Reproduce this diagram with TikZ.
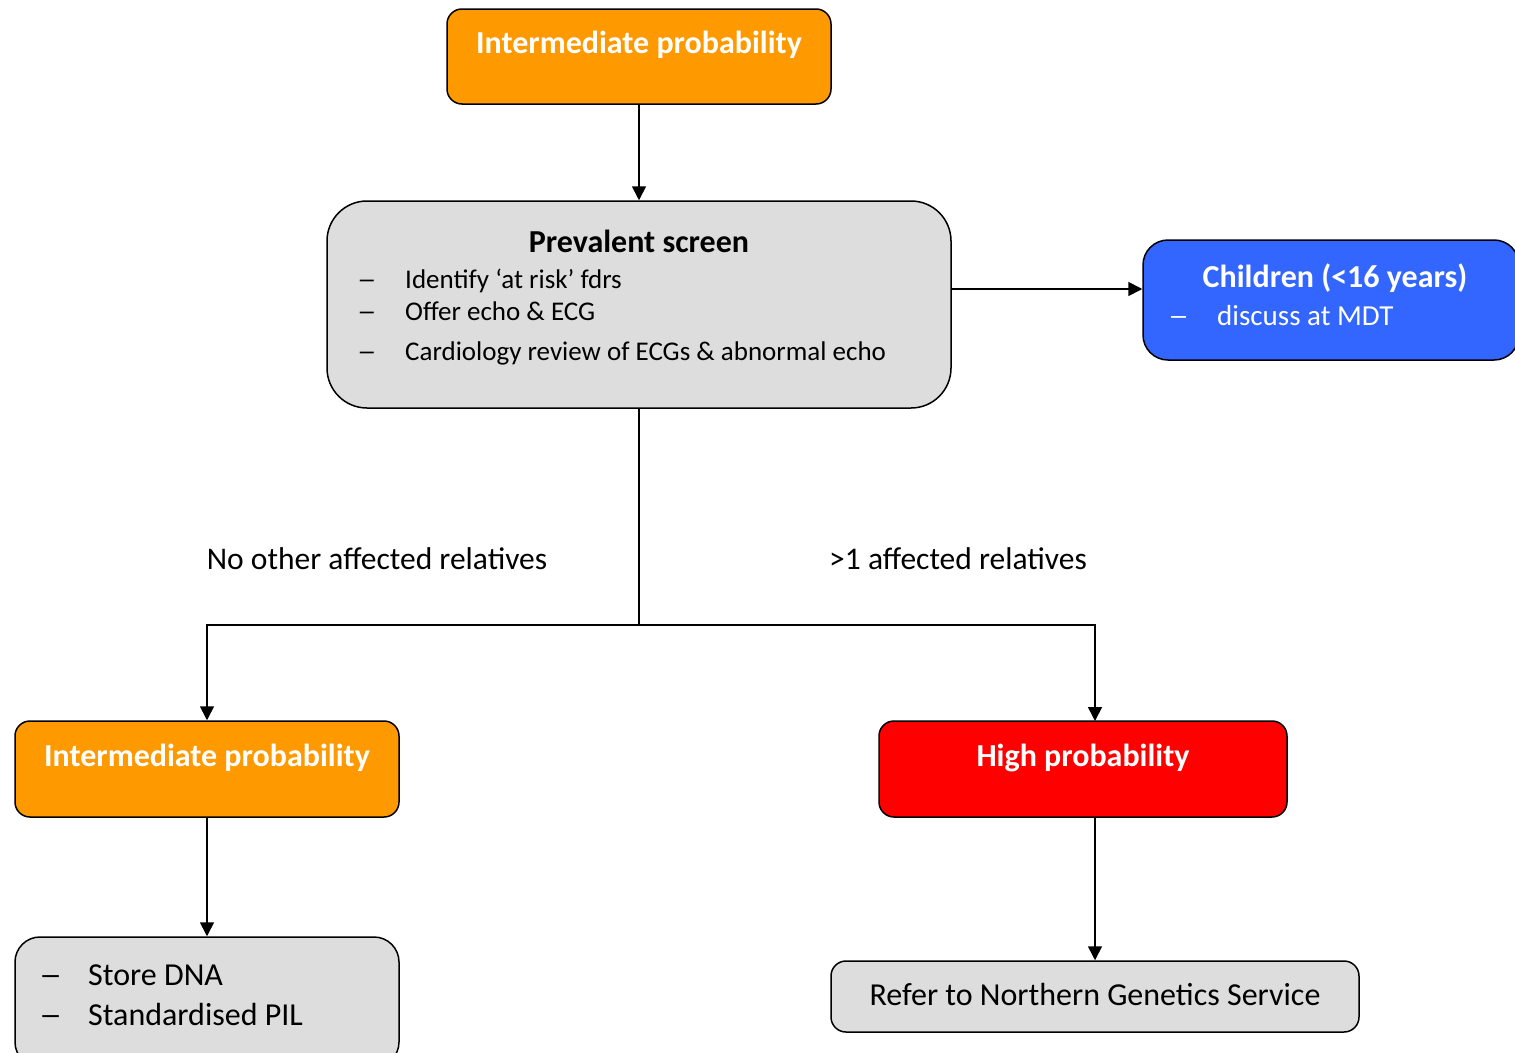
\documentclass[tikz,border=0pt]{standalone}
\usepackage{fontspec}
\setmainfont{Carlito}
\usetikzlibrary{arrows.meta}
\definecolor{orangebox}{HTML}{FF9900}
\definecolor{greybox}{HTML}{DDDDDD}
\definecolor{bluebox}{HTML}{3366FF}
\definecolor{redbox}{HTML}{FF0000}
\newcommand{\mydash}{\scalebox{1.45}[1]{–}}
\tikzset{
  box/.style={draw=black, line width=1.5pt, inner sep=0pt},
  conn/.style={line width=1.6pt, -{Triangle[length=14pt,width=14pt]}},
  plain/.style={line width=1.6pt},
  bt/.style={font=\fontsize{32}{38}\selectfont\bfseries, inner sep=0pt, anchor=base},
  lt/.style={font=\fontsize{27}{32}\selectfont, inner sep=0pt, anchor=base west},
  ct/.style={font=\fontsize{32}{38}\selectfont, inner sep=0pt, anchor=base},
}
\begin{document}
\begin{tikzpicture}[x=1pt,y=-1pt]
\useasboundingbox (0,0) rectangle (1515,1052);
\fill[white] (0,0) rectangle (1515,1052);
\clip (0,0) rectangle (1515,1052);

% boxes
\node[box, fill=orangebox, rounded corners=15pt, minimum width=384pt, minimum height=95pt] (top) at (639,56.5) {};
\node[box, fill=greybox, rounded corners=40pt, minimum width=624pt, minimum height=207pt] (prev) at (639,304.5) {};
\node[box, fill=bluebox, rounded corners=25pt, minimum width=376pt, minimum height=120pt] (child) at (1331,300) {};
\node[box, fill=orangebox, rounded corners=15pt, minimum width=384pt, minimum height=96pt] (inter) at (207,769) {};
\node[box, fill=redbox, rounded corners=15pt, minimum width=408pt, minimum height=96pt] (high) at (1083,769) {};
\node[box, fill=greybox, rounded corners=25pt, minimum width=384pt, minimum height=130pt] (store) at (207,1002) {};
\node[box, fill=greybox, rounded corners=15pt, minimum width=528pt, minimum height=71pt] (refer) at (1095,996.5) {};

% texts
\node[bt, text=white] (toptxt) at (639,53) {Intermediate probability};
\node[bt] (prevtitle) at (639,252) {Prevalent screen};
\node[lt] (pd1) at (357,288) {\mydash};
\node[lt] (pt1) at (405,288) {Identify ‘at risk’ fdrs};
\node[lt] (pd2) at (357,320) {\mydash};
\node[lt] (pt2) at (405,320) {Offer echo \& ECG};
\node[lt] (pd3) at (357,360) {\mydash};
\node[lt] (pt3) at (405,360) {Cardiology review of ECGs \& abnormal echo};
\node[bt, text=white] (childtitle) at (1335,287) {Children (<16 years)};
\node[lt, text=white, font=\fontsize{29}{34}\selectfont] (cd1) at (1168,325) {\mydash};
\node[lt, text=white, font=\fontsize{29}{34}\selectfont] (ct1) at (1217,325) {discuss at MDT};
\node[bt, text=white] (intertxt) at (207,766) {Intermediate probability};
\node[bt, text=white] (hightxt) at (1083,766) {High probability};
\node[lt, font=\fontsize{32}{38}\selectfont] (sd1) at (39,985) {\mydash};
\node[lt, font=\fontsize{32}{38}\selectfont] (st1) at (88,985) {Store DNA};
\node[lt, font=\fontsize{32}{38}\selectfont] (sd2) at (39,1025) {\mydash};
\node[lt, font=\fontsize{32}{38}\selectfont] (st2) at (88,1025) {Standardised PIL};
\node[ct] (refertxt) at (1095,1005) {Refer to Northern Genetics Service};
\node[ct, font=\fontsize{31.5}{37}\selectfont] (lab1) at (377,569) {No other affected relatives};
\node[ct, font=\fontsize{31.5}{37}\selectfont] (lab2) at (958,569) {>1 affected relatives};

% connectors
\coordinate (split) at (639,625);
\draw[conn] (top.south) -- (prev.north);
\draw[conn] (prev.east |- 0,289) -- (child.west |- 0,289);
\draw[plain] (prev.south) -- (split);
\draw[conn] (split) -| (inter.north);
\draw[conn] (split) -| (1095,721) coordinate (highin);
\draw[conn] (inter.south) -- (store.north);
\draw[conn] (1095,817) -- (refer.north);
\end{tikzpicture}
\end{document}
